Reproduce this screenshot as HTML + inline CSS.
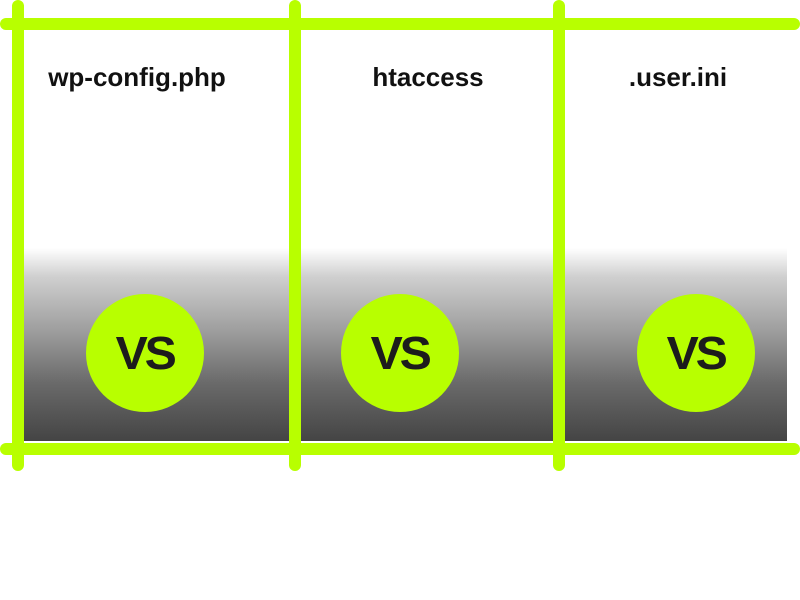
<!DOCTYPE html>
<html><head><style>
body{margin:0;width:800px;height:600px;background:#fff;position:relative;overflow:hidden;font-family:"Liberation Sans",sans-serif}
.g{position:absolute;left:24px;top:248px;width:763px;height:193px;background:linear-gradient(#fff 0%,#cfcfcf 15%,#9a9a9a 45%,#6a6a6a 70%,#444 100%)}
.l{position:absolute;background:#b8ff00;border-radius:6px}
.c{position:absolute;width:118px;height:118px;border-radius:50%;background:#b8ff00;top:294px;text-align:center;line-height:118px;font-weight:900;font-size:46px;color:#1c1c1c;letter-spacing:-3px}
.c span{display:inline-block;transform:scaleX(1.05)}
.t{position:absolute;top:62px;font-weight:bold;font-size:26px;color:#111;transform:translateX(-50%);white-space:nowrap}
</style></head><body>
<div class="g"></div>
<div class="l" style="left:0;top:18px;width:800px;height:12px"></div>
<div class="l" style="left:0;top:443px;width:800px;height:12px"></div>
<div class="l" style="left:12px;top:0;width:12px;height:471px"></div>
<div class="l" style="left:289px;top:0;width:12px;height:471px"></div>
<div class="l" style="left:553px;top:0;width:12px;height:471px"></div>
<div class="t" style="left:137px">wp-config.php</div>
<div class="t" style="left:428px">htaccess</div>
<div class="t" style="left:678px">.user.ini</div>
<div class="c" style="left:86px"><span>VS</span></div>
<div class="c" style="left:341px"><span>VS</span></div>
<div class="c" style="left:637px"><span>VS</span></div>
</body></html>
